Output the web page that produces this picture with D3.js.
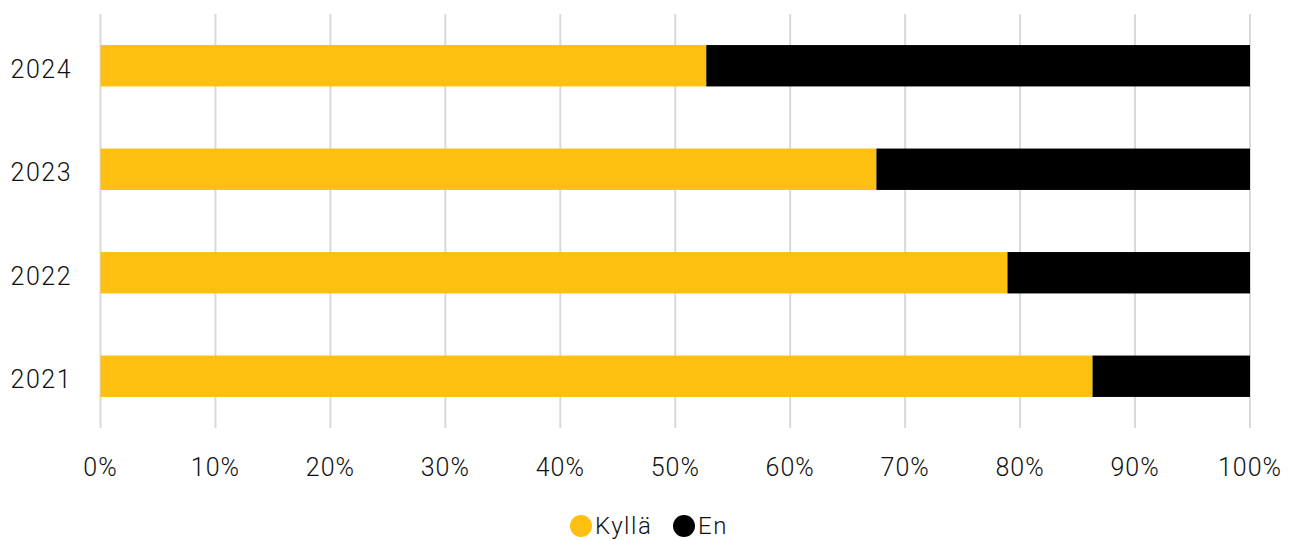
<!DOCTYPE html>
<html>
<head>
<meta charset="utf-8">
<script src="https://cdn.jsdelivr.net/npm/d3@7"></script>
<style>
  body { margin: 0; background: #fff; }
  text { font-family: Roboto, "DejaVu Sans", sans-serif; font-weight: 300; fill: #111; }
</style>
</head>
<body>
<div id="chart"></div>
<script>
var years = ["2024", "2023", "2022", "2021"];
var kylla = [52.7, 67.5, 78.9, 86.3];
var en = [47.3, 32.5, 21.1, 13.7];
var seriesNames = ["Kyllä", "En"];
var seriesColors = ["#fdc010", "#000000"];
var xTicks = [0, 10, 20, 30, 40, 50, 60, 70, 80, 90, 100];

var params = { width: 1290, height: 540, left: 100.5, right: 1250, top: 14, bottom: 428 };

var svg = d3.select("#chart").append("svg")
    .attr("width", params.width)
    .attr("height", params.height);

var x = d3.scaleLinear().domain([0, 100]).range([params.left, params.right]);
var y = d3.scaleBand().domain(years).range([params.top, params.bottom]).paddingInner(0.6).paddingOuter(0.3);

// gridlines
svg.append("g")
    .selectAll("line")
    .data(xTicks).enter()
    .append("line")
        .attr("x1", function(d) { return x(d); })
        .attr("x2", function(d) { return x(d); })
        .attr("y1", params.top)
        .attr("y2", params.bottom)
        .attr("stroke", "#d9d9d9")
        .attr("stroke-width", 2);

// stacked bars
var rows = years.map(function(yr, i) { return { year: yr, vals: [kylla[i], en[i]] }; });

rows.forEach(function(r) {
    var start = 0;
    r.vals.forEach(function(v, j) {
        svg.append("rect")
            .attr("x", x(start))
            .attr("y", y(r.year))
            .attr("width", x(start + v) - x(start))
            .attr("height", y.bandwidth())
            .attr("fill", seriesColors[j]);
        start += v;
    });
});

// x axis labels
svg.append("g")
    .selectAll("text")
    .data(xTicks).enter()
    .append("text")
        .attr("x", function(d) { return x(d); })
        .attr("y", 476)
        .attr("text-anchor", "middle")
        .attr("font-size", 25)
        .attr("letter-spacing", 1)
        .text(function(d) { return d + "%"; });

// y labels (sit slightly below bar centre, as in the original)
svg.append("g")
    .selectAll("text")
    .data(years).enter()
    .append("text")
        .attr("x", 72)
        .attr("y", function(d) { return y(d) + y.bandwidth() / 2 + 3; })
        .attr("dy", "0.36em")
        .attr("text-anchor", "end")
        .attr("font-size", 25)
        .attr("letter-spacing", 1.5)
        .text(function(d) { return d; });

// legend
var legendX = [581, 684];
var legend = svg.selectAll(".legend")
    .data(seriesNames).enter()
    .append("g")
        .attr("class", "legend")
        .attr("transform", function(d, i) { return "translate(" + legendX[i] + ",526)"; });

legend.append("circle")
    .attr("r", 11)
    .attr("fill", function(d, i) { return seriesColors[i]; });

legend.append("text")
    .attr("x", 14)
    .attr("dy", "0.35em")
    .attr("font-size", 24)
    .attr("letter-spacing", 1.5)
    .text(function(d) { return d; });
</script>
</body>
</html>
